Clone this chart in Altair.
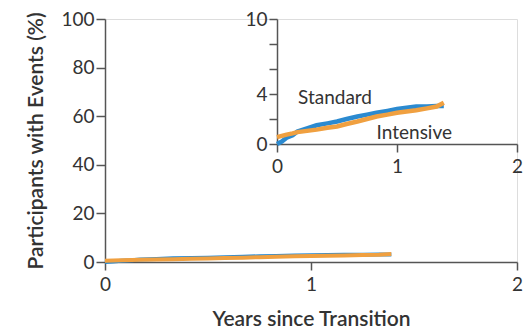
import altair as alt
import pandas as pd

years = [0.0, 0.04, 0.08, 0.13, 0.17, 0.25, 0.33, 0.42, 0.5, 0.58, 0.67, 0.75, 0.83, 0.92, 1.0, 1.08, 1.16, 1.25, 1.33, 1.39]
standard = [0.0, 0.2, 0.5, 0.7, 1.0, 1.25, 1.5, 1.65, 1.8, 2.0, 2.2, 2.35, 2.5, 2.65, 2.8, 2.9, 3.0, 3.0, 3.05, 3.05]
intensive = [0.55, 0.65, 0.75, 0.85, 0.95, 1.05, 1.15, 1.3, 1.4, 1.6, 1.8, 2.0, 2.2, 2.35, 2.5, 2.6, 2.7, 2.85, 3.0, 3.3]

label_text = ["Standard", "Intensive"]
label_x = [0.175, 0.83]
label_y = [3.7, 0.9]

rows = []
for x, s, i in zip(years, standard, intensive):
    rows.append({"years": x, "pct": s, "group": "Standard"})
    rows.append({"years": x, "pct": i, "group": "Intensive"})
df = pd.DataFrame(rows)
labels = pd.DataFrame({"years": label_x, "pct": label_y, "text": label_text})

FONT = "Lato"
TXT = "#333333"
AX = "#555555"
W, H = 412, 243
LFS = 19
TFS = 21

common = dict(grid=False, labelFont=FONT, titleFont=FONT, labelColor=TXT, titleColor=TXT,
              domainColor=AX, tickColor=AX, domainWidth=1.5, tickWidth=1.5,
              labelOverlap=False, labelFlush=False, labelFontSize=LFS, titleFontSize=TFS,
              titleFontWeight=600, labelFontWeight=400)

color = alt.Color("group:N", scale=alt.Scale(domain=["Standard", "Intensive"],
                                             range=["#2b8ad0", "#f0a040"]), legend=None)

main = alt.Chart(df).mark_line(strokeWidth=4).encode(
    x=alt.X("years:Q", scale=alt.Scale(domain=[0, 2], nice=False),
            axis=alt.Axis(tickCount=2, format="d", title="Years since Transition",
                          tickSize=8, labelPadding=5, titlePadding=14, **common)),
    y=alt.Y("pct:Q", scale=alt.Scale(domain=[0, 100], nice=False),
            axis=alt.Axis(values=[0, 20, 40, 60, 80, 100], title="Participants with Events (%)",
                          tickSize=9, labelPadding=2, titlePadding=14, **common)),
    color=color,
    order=alt.Order("group:N", sort="descending"),
)

ix = alt.Scale(domain=[0, 2], range=[172, 412], nice=False)
iy = alt.Scale(domain=[0, 10], range=[125, 0], nice=False)

ix_axis = alt.Axis(orient="bottom", offset=-118, tickCount=2, format="d", title=None,
                   tickSize=8, labelPadding=5, **common)
iy_axis = alt.Axis(orient="left", offset=-172, values=[0, 2, 4, 6, 8, 10], title=None,
                   labelExpr="datum.value==0||datum.value==4||datum.value==10 ? datum.label : ''",
                   tickSize=8, labelPadding=2, **common)

inset = alt.Chart(df).mark_line(strokeWidth=4.5).encode(
    x=alt.X("years:Q", scale=ix, axis=ix_axis),
    y=alt.Y("pct:Q", scale=iy, axis=iy_axis),
    color=color,
)

text = alt.Chart(labels).mark_text(align="left", baseline="middle", font=FONT,
                                   fontSize=LFS, color=TXT).encode(
    x=alt.X("years:Q", scale=ix, axis=ix_axis),
    y=alt.Y("pct:Q", scale=iy, axis=iy_axis),
    text="text:N",
)

inset_layer = alt.layer(inset, text)

chart = alt.layer(main, inset_layer).resolve_scale(x="independent", y="independent").properties(
    width=W, height=H,
    autosize=alt.AutoSizeParams(type="none"),
    padding={"left": 105, "top": 19, "right": 14, "bottom": 71},
).configure_view(stroke=None).configure(background="white")

chart.save("out.html", embed_options={"renderer": "svg", "actions": False})
